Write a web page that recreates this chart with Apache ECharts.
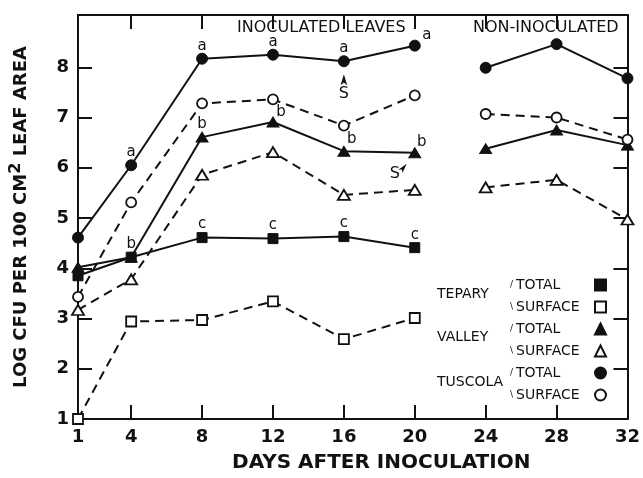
<!DOCTYPE html>
<html>
<head>
<meta charset="utf-8">
<script src="https://cdn.jsdelivr.net/npm/echarts@6/dist/echarts.min.js"></script>
<style>
  html, body { margin: 0; padding: 0; background: #fff; }
  #chart { width: 643px; height: 478px; }
</style>
</head>
<body>
<div id="chart"></div>
<script>
// days after inoculation (24-32 = non-inoculated leaves)
var days = [1, 4, 8, 12, 16, 20, 24, 28, 32];
var xTickLabels = [1, 4, 8, 12, 16, 20, 24, 28, 32];
var yTickLabels = [1, 2, 3, 4, 5, 6, 7, 8];

// log CFU per 100 cm2 leaf area
var teparyTotal    = [3.85, 4.22, 4.61, 4.59, 4.63, 4.41, null, null, null];
var teparySurface  = [1.00, 2.94, 2.97, 3.34, 2.59, 3.01, null, null, null];
var valleyTotal    = [4.02, 4.22, 6.61, 6.91, 6.33, 6.30, 6.38, 6.75, 6.45];
var valleySurface  = [3.17, 3.78, 5.86, 6.31, 5.46, 5.56, 5.61, 5.76, 4.97];
var tuscolaTotal   = [4.61, 6.05, 8.17, 8.25, 8.12, 8.43, 7.99, 8.46, 7.78];
var tuscolaSurface = [3.43, 5.31, 7.28, 7.36, 6.84, 7.44, 7.07, 7.00, 6.56];

// significance letters on the total counts
var teparyLetters  = ['', '', 'c', 'c', 'c', 'c', '', '', ''];
var valleyLetters  = ['', 'b', 'b', 'b', 'b', 'b', '', '', ''];
var tuscolaLetters = ['', 'a', 'a', 'a', 'a', 'a', '', '', ''];

var FONT = 'DejaVu Sans';

// where a letter sits relative to its point (default: straight above)
var letterOffset = {
  'valley-12': [8, -10],
  'valley-16': [8, -12],
  'valley-20': [7, -11],
  'tuscola-20': [12, -11]
};

function buildData(vals, letters, key) {
  var out = [];
  days.forEach(function (d, i) {
    if (vals[i] == null) return;
    // gap between inoculated and non-inoculated leaves
    if (d === 24 && out.length) out.push({ value: [22, '-'] });
    var item = { value: [d, vals[i]] };
    if (letters && letters[i]) {
      item.label = {
        show: true,
        formatter: letters[i],
        position: 'inside',
        offset: letterOffset[key + '-' + d] || [0, -13],
        fontFamily: FONT,
        fontSize: 15,
        color: '#111'
      };
    }
    out.push(item);
  });
  return out;
}

function mkSeries(name, vals, letters, key, symbol, size, filled, dashed) {
  return {
    name: name,
    type: 'line',
    data: buildData(vals, letters, key),
    symbol: symbol,
    symbolSize: size,
    showAllSymbol: true,
    connectNulls: false,
    lineStyle: { color: '#111', width: 2, type: dashed ? [9, 6] : 'solid' },
    itemStyle: filled
      ? { color: '#111', borderColor: '#111', borderWidth: 1 }
      : { color: '#fff', borderColor: '#111', borderWidth: 1.8 },
    emphasis: { disabled: true },
    z: filled ? 3 : 4
  };
}

var series = [
  mkSeries('Tepary total', teparyTotal, teparyLetters, 'tepary', 'rect', 10, true, false),
  mkSeries('Tepary surface', teparySurface, null, 'tepary', 'rect', 10, false, true),
  mkSeries('Valley total', valleyTotal, valleyLetters, 'valley', 'triangle', [12, 10], true, false),
  mkSeries('Valley surface', valleySurface, null, 'valley', 'triangle', [12, 10], false, true),
  mkSeries('Tuscola total', tuscolaTotal, tuscolaLetters, 'tuscola', 'circle', 11, true, false),
  mkSeries('Tuscola surface', tuscolaSurface, null, 'tuscola', 'circle', 10, false, true)
];

// "S" arrows
series[4].markPoint = {
  silent: true,
  data: [
    { coord: [days[4], tuscolaTotal[4]], symbol: 'arrow', symbolSize: [5, 11], symbolOffset: [0, 13],
      itemStyle: { color: '#111' },
      label: { show: true, formatter: 'S', position: 'bottom', distance: 1, fontFamily: FONT, fontSize: 16, color: '#111' } }
  ]
};
series[2].markPoint = {
  silent: true,
  data: [
    { coord: [days[5], valleyTotal[5]], symbol: 'arrow', symbolSize: [4, 10], symbolOffset: [-8, 11], symbolRotate: -40,
      itemStyle: { color: '#111' }, label: { show: false } },
    { coord: [days[5], valleyTotal[5]], symbol: 'circle', symbolSize: 1, symbolOffset: [-20, 21],
      itemStyle: { color: 'rgba(0,0,0,0)' },
      label: { show: true, formatter: 'S', position: 'inside', fontFamily: FONT, fontSize: 16, color: '#111' } }
  ]
};

var chart = echarts.init(document.getElementById('chart'));

var axisLine = { show: true, lineStyle: { color: '#111', width: 2 } };
var tickStyle = { color: '#111', width: 2 };

var option = {
  backgroundColor: '#fff',
  animation: false,
  grid: { left: 75, right: 11, top: 15, bottom: 56, containLabel: false },
  xAxis: [{
    type: 'value',
    min: 1,
    max: 32,
    name: 'DAYS AFTER INOCULATION',
    nameLocation: 'middle',
    nameGap: 34,
    nameTextStyle: { fontFamily: FONT, fontSize: 20, fontWeight: 'bold', color: '#111', padding: [0, 0, 0, 57] },
    axisLine: axisLine,
    axisTick: { show: true, inside: true, length: 14, lineStyle: tickStyle, customValues: xTickLabels.slice(1, -1) },
    axisLabel: { customValues: xTickLabels, margin: 9, fontFamily: FONT, fontSize: 18, fontWeight: 'bold', color: '#111' },
    splitLine: { show: false }
  }, {
    type: 'value',
    position: 'top',
    min: 1,
    max: 32,
    axisLine: axisLine,
    axisTick: { show: true, inside: true, length: 14, lineStyle: tickStyle, customValues: xTickLabels.slice(1, -1) },
    axisLabel: { show: false },
    splitLine: { show: false }
  }],
  yAxis: [{
    type: 'value',
    min: 1,
    max: 9.04,
    name: 'LOG CFU PER 100 CM{sup|2} LEAF AREA',
    nameLocation: 'middle',
    nameGap: 44,
    nameTextStyle: {
      fontFamily: FONT, fontSize: 18, fontWeight: 'bold', color: '#111',
      rich: { sup: { fontFamily: FONT, fontSize: 16, fontWeight: 'bold', color: '#111', padding: [0, 0, 10, 0] } }
    },
    axisLine: axisLine,
    axisTick: { show: true, inside: true, length: 14, lineStyle: tickStyle, customValues: yTickLabels.slice(1) },
    axisLabel: { customValues: yTickLabels, margin: 9, fontFamily: FONT, fontSize: 18, fontWeight: 'bold', color: '#111' },
    splitLine: { show: false }
  }, {
    type: 'value',
    position: 'right',
    min: 1,
    max: 9.04,
    axisLine: axisLine,
    axisTick: { show: true, inside: true, length: 14, lineStyle: tickStyle, customValues: yTickLabels.slice(1) },
    axisLabel: { show: false },
    splitLine: { show: false }
  }],
  legend: {
    orient: 'vertical',
    left: 505,
    top: 273,
    align: 'right',
    itemWidth: 11,
    itemHeight: 11,
    itemGap: 8,
    selectedMode: false,
    data: [
      { name: 'Tepary total', icon: 'rect' },
      { name: 'Tepary surface', icon: 'rect' },
      { name: 'Valley total', icon: 'triangle' },
      { name: 'Valley surface', icon: 'triangle' },
      { name: 'Tuscola total', icon: 'circle' },
      { name: 'Tuscola surface', icon: 'circle' }
    ],
    formatter: function (name) {
      return name.indexOf('total') > -1 ? '{s|/}{t|TOTAL}' : '{s|\\}{t|SURFACE}';
    },
    textStyle: {
      fontFamily: FONT, fontSize: 14, color: '#111', lineHeight: 14,
      rich: {
        s: { fontFamily: FONT, fontSize: 9, color: '#111', width: 6, align: 'left' },
        t: { fontFamily: FONT, fontSize: 14, color: '#111', width: 74, align: 'left' }
      }
    }
  },
  graphic: [
    { type: 'text', left: 237, top: 20, style: { text: 'INOCULATED LEAVES', font: '16px "DejaVu Sans"', fill: '#111' } },
    { type: 'text', left: 473, top: 20, style: { text: 'NON-INOCULATED', font: '16px "DejaVu Sans"', fill: '#111' } },
    { type: 'text', left: 437, top: 287, style: { text: 'TEPARY', font: '14px "DejaVu Sans"', fill: '#111' } },
    { type: 'text', left: 437, top: 330, style: { text: 'VALLEY', font: '14px "DejaVu Sans"', fill: '#111' } },
    { type: 'text', left: 437, top: 375, style: { text: 'TUSCOLA', font: '14px "DejaVu Sans"', fill: '#111' } }
  ],
  series: series
};

chart.setOption(option);
</script>
</body>
</html>
